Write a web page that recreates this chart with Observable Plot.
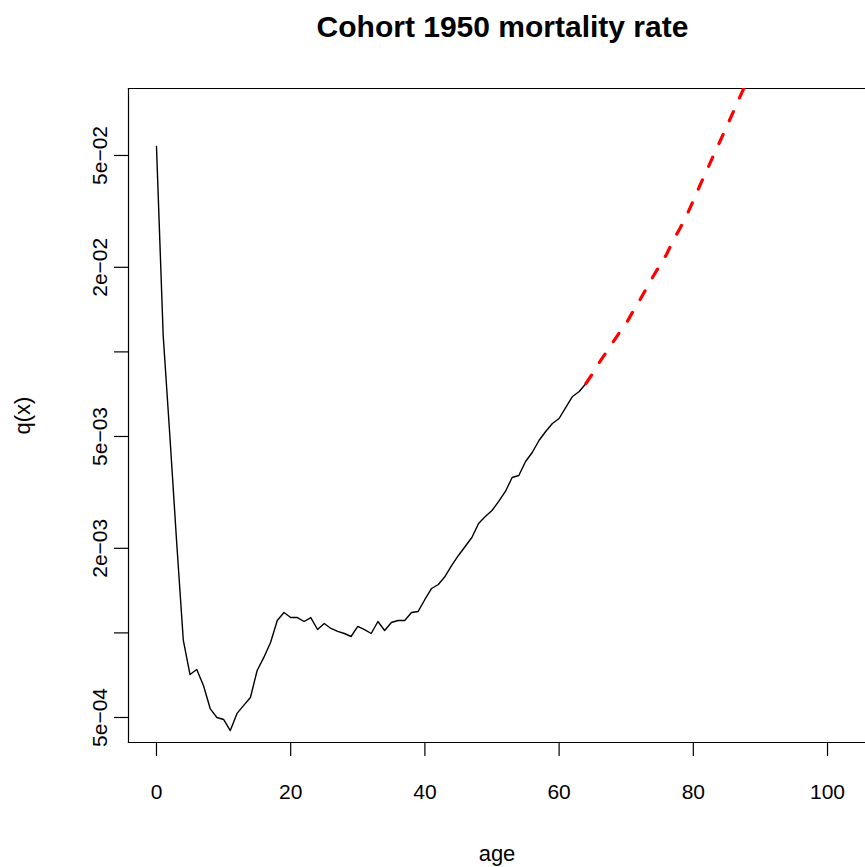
<!DOCTYPE html>
<html><head><meta charset="utf-8">
<script src="https://cdn.jsdelivr.net/npm/d3@7"></script>
<script src="https://cdn.jsdelivr.net/npm/@observablehq/plot@0.6"></script>
<style>html,body{margin:0;padding:0;background:#fff;overflow:hidden;}</style>
</head><body><div id="chart"></div>
<script>
const titleText = "Cohort 1950 mortality rate";
const xLabel = "age";
const yLabel = "q(x)";

const observedAges = [0,1,2,3,4,5,6,7,8,9,10,11,12,13,14,15,16,17,18,19,20,21,22,23,24,25,26,27,28,29,30,31,32,33,34,35,36,37,38,39,40,41,42,43,44,45,46,47,48,49,50,51,52,53,54,55,56,57,58,59,60,61,62,63,64];
const observedQ = [0.0538,0.01144,0.0050,0.002115,0.000940,0.000711,0.000741,0.000650,0.000538,0.000500,0.000492,0.000449,0.000517,0.000552,0.000589,0.000735,0.000818,0.000924,0.001107,0.001182,0.001134,0.001134,0.001098,0.001134,0.001028,0.001080,0.001037,0.001012,0.000995,0.000971,0.001054,0.001028,0.000995,0.001098,0.001020,0.001089,0.001107,0.001107,0.001182,0.001192,0.001315,0.001439,0.001487,0.001588,0.001738,0.001886,0.002030,0.002185,0.002451,0.002596,0.002726,0.002936,0.003186,0.003573,0.003632,0.004074,0.004385,0.004838,0.005209,0.005562,0.005794,0.006341,0.006939,0.007230,0.007719];

const projectedAges = [64,65,66,67,68,69,70,71,72,73,74,75,76,77,78,79,80,81,82,83,84,85,86,87,88,89,90];
const projectedQ = [0.007719,0.008380,0.009170,0.009951,0.010801,0.011726,0.012620,0.013922,0.015234,0.016807,0.018544,0.020300,0.022217,0.024915,0.027486,0.030500,0.034600,0.039200,0.044200,0.050000,0.056300,0.063600,0.071800,0.081300,0.092000,0.10400,0.11700];

const xTicks = [0,20,40,60,80,100];
const yTicks = [5e-4,1e-3,2e-3,5e-3,1e-2,2e-2,5e-2];
const yTickLabels = ["5e\u221204","","2e\u221203","5e\u221203","","2e\u221202","5e\u221202"];

const observed = observedAges.map((a,i)=>({age:a,q:observedQ[i]}));
const projected = projectedAges.map((a,i)=>({age:a,q:projectedQ[i]}));
const yLabelRows = yTicks.map((v,i)=>({v, label:yTickLabels[i]})).filter(d=>d.label);

const chart = Plot.plot({
  width: 865, height: 867,
  marginLeft: 128, marginRight: 0, marginTop: 88, marginBottom: 125,
  style: {fontFamily: "'Liberation Sans', Arial, Helvetica, sans-serif", fontSize: "21px", background: "#fff", color: "#000"},
  x: {domain: [-4.17, 105.66]},
  y: {type: "log", domain: [4.0735e-4, 0.08656]},
  marks: [
    Plot.frame({anchor: "top", stroke: "#000", strokeWidth: 1.2}),
    Plot.frame({anchor: "bottom", stroke: "#000", strokeWidth: 1.2}),
    Plot.frame({anchor: "left", stroke: "#000", strokeWidth: 1.2}),
    Plot.axisX(xTicks, {tickSize: 14, tickPadding: 28, label: null, fontSize: 21, stroke: "#000", strokeWidth: 1.2}),
    Plot.axisY(yTicks, {tickSize: 14, tickFormat: () => "", label: null, stroke: "#000", strokeWidth: 1.2}),
    Plot.text(yLabelRows, {y: "v", text: "label", frameAnchor: "left", dx: -28, rotate: -90, textAnchor: "middle", lineAnchor: "middle", fontSize: 21, fill: "#000"}),
    Plot.line(observed, {x: "age", y: "q", stroke: "#000", strokeWidth: 1.4, clip: true}),
    Plot.line(projected, {x: "age", y: "q", stroke: "#ff0000", strokeWidth: 3.2, strokeDasharray: "10,15", strokeLinecap: "round", clip: true}),
    Plot.text([titleText], {frameAnchor: "top", dy: -61, dx: 5.5, textAnchor: "middle", lineAnchor: "middle", fontWeight: "bold", fontSize: 30, fill: "#000"}),
    Plot.text([xLabel], {frameAnchor: "bottom", dy: 111, dx: 0, textAnchor: "middle", lineAnchor: "middle", fontSize: 22, fill: "#000"}),
    Plot.text([yLabel], {frameAnchor: "left", dx: -106, rotate: -90, textAnchor: "middle", lineAnchor: "middle", fontSize: 22, fill: "#000"})
  ]
});
document.getElementById("chart").appendChild(chart);
</script>
</body></html>
